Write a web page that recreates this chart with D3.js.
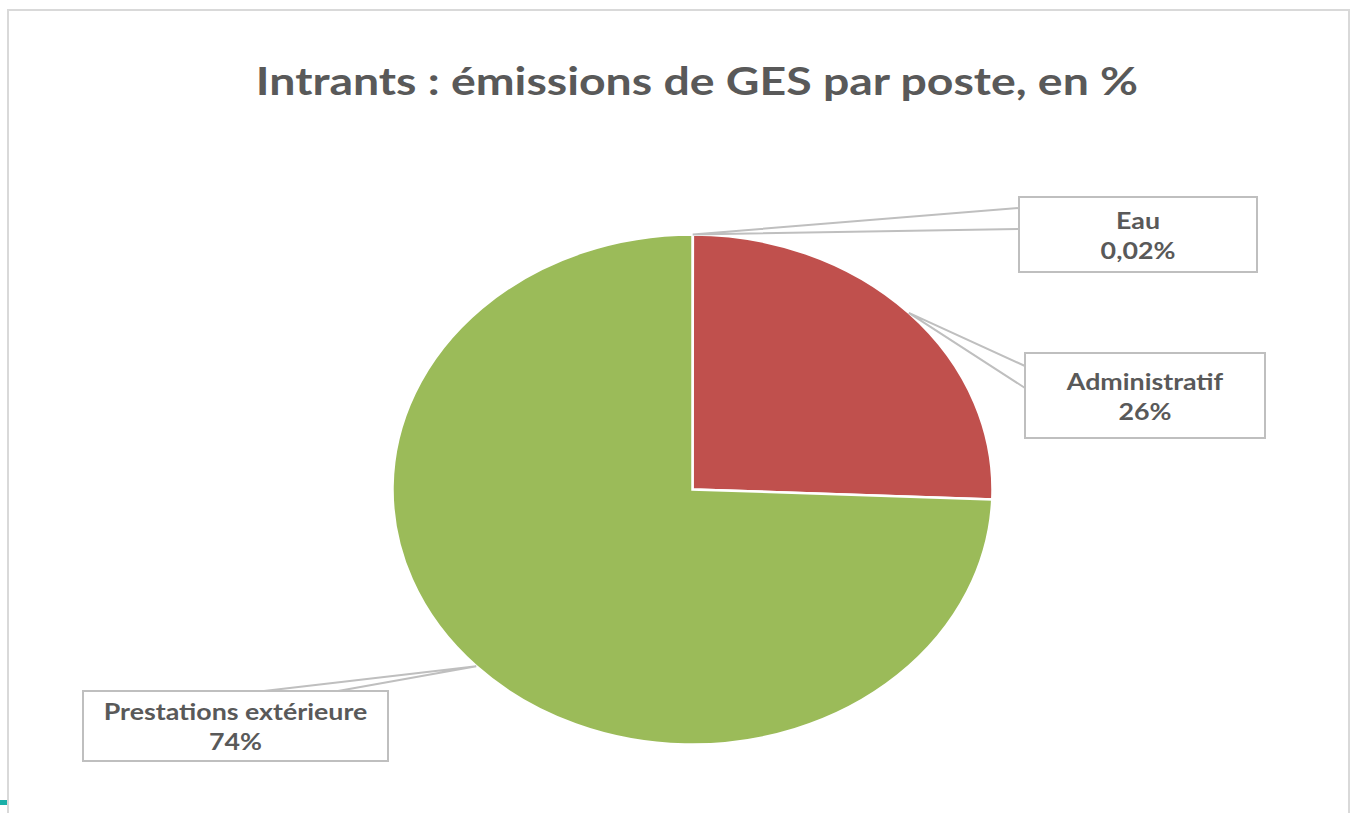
<!DOCTYPE html>
<html>
<head>
<meta charset="utf-8">
<script src="https://cdn.jsdelivr.net/npm/d3@7"></script>
<style>
  html, body { margin: 0; padding: 0; background: #fff; }
  svg { display: block; font-family: Lato, "Open Sans", sans-serif; }
</style>
</head>
<body>
<svg id="chart" width="1357" height="813"></svg>
<script>
// données
var titre = "Intrants : émissions de GES par poste, en %";
var postes = ["Eau", "Administratif", "Prestations extérieure"];
var valeurs = [0.02, 25.6, 74.38];
var etiquettes = ["0,02%", "26%", "74%"];
var couleurs = ["#4F81BD", "#C0504D", "#9BBB59"];

// position des cadres d'étiquettes (mise en page) et des points d'attache des traits
var cadres = [
    { x: 1019, y: 197, w: 238, h: 75, a1: [0, 11], a2: [0, 32] },
    { x: 1025, y: 353, w: 240, h: 85, a1: [0, 13], a2: [0, 35] },
    { x: 83, y: 691, w: 305, h: 70, a1: [181, 0], a2: [255, 0] }
];

var etirement = 1.19; // l'image d'origine est étirée horizontalement

var svg = d3.select("#chart");

// cadre du graphique
svg.append("path")
    .attr("d", "M8,813 V10 H1349 V813")
    .attr("fill", "none")
    .attr("stroke", "#d9d9d9")
    .attr("stroke-width", 2);
svg.append("rect")
    .attr("x", 0).attr("y", 800).attr("width", 7).attr("height", 5)
    .attr("fill", "#1aafa8");

svg.append("text")
    .attr("transform", `translate(697,95) scale(${etirement},1)`)
    .attr("text-anchor", "middle")
    .attr("font-size", 39)
    .attr("font-weight", "bold")
    .attr("fill", "#595959")
    .text(titre);

var cx = 692.5, cy = 489.5;
var rx = 300, ry = 255;

var data = postes.map((p, i) => ({ poste: p, valeur: valeurs[i], label: etiquettes[i], couleur: couleurs[i] }));
var pie = d3.pie().sort(null).value(d => d.valeur);
var arcs = pie(data);
var arc = d3.arc().innerRadius(0).outerRadius(ry);

var g = svg.append("g")
    .attr("transform", `translate(${cx},${cy}) scale(${rx / ry},1)`);
g.selectAll("path")
    .data(arcs)
    .enter()
    .append("path")
    .attr("d", arc)
    .attr("fill", d => d.data.couleur)
    .attr("stroke", "#fff")
    .attr("stroke-width", 2.5)
    .attr("vector-effect", "non-scaling-stroke");

// point d'attache sur le bord de l'ellipse, au milieu de chaque part
function ancre(d) {
    var a = (d.startAngle + d.endAngle) / 2;
    return [cx + rx * Math.sin(a), cy - ry * Math.cos(a)];
}

var lab = svg.selectAll(".etiquette")
    .data(arcs)
    .enter()
    .append("g")
    .attr("class", "etiquette");

lab.append("path")
    .attr("d", (d, i) => {
        var c = cadres[i], p = ancre(d);
        return `M${c.x + c.a1[0]},${c.y + c.a1[1]} L${p[0]},${p[1]} L${c.x + c.a2[0]},${c.y + c.a2[1]}`;
    })
    .attr("fill", "none")
    .attr("stroke", "#bfbfbf")
    .attr("stroke-width", 2);

lab.append("rect")
    .attr("x", (d, i) => cadres[i].x)
    .attr("y", (d, i) => cadres[i].y)
    .attr("width", (d, i) => cadres[i].w)
    .attr("height", (d, i) => cadres[i].h)
    .attr("fill", "#fff")
    .attr("stroke", "#bfbfbf")
    .attr("stroke-width", 2);

lab.append("text")
    .attr("transform", (d, i) => `translate(${cadres[i].x + cadres[i].w / 2},${cadres[i].y + cadres[i].h / 2 - 6}) scale(${etirement},1)`)
    .attr("text-anchor", "middle")
    .attr("font-size", 22.5)
    .attr("font-weight", "bold")
    .attr("fill", "#595959")
    .text(d => d.data.poste);

lab.append("text")
    .attr("transform", (d, i) => `translate(${cadres[i].x + cadres[i].w / 2},${cadres[i].y + cadres[i].h / 2 + 24}) scale(${etirement},1)`)
    .attr("text-anchor", "middle")
    .attr("font-size", 22.5)
    .attr("font-weight", "bold")
    .attr("fill", "#595959")
    .text(d => d.data.label);
</script>
</body>
</html>
